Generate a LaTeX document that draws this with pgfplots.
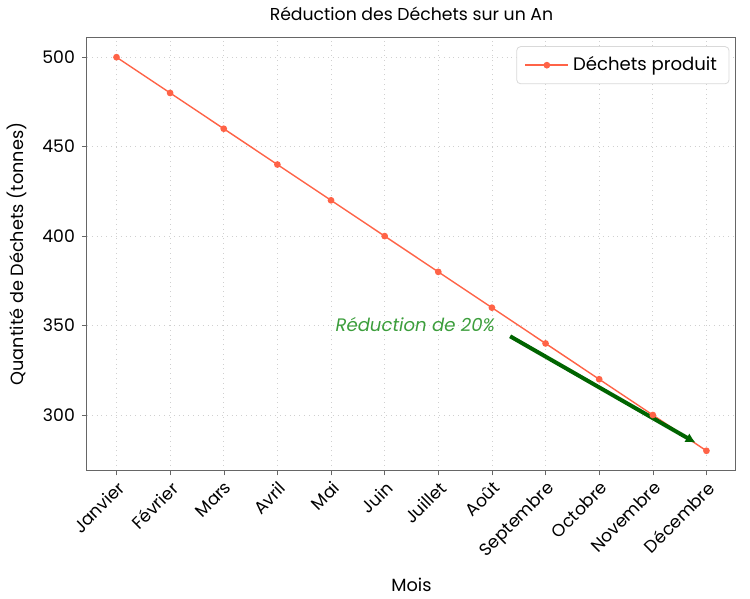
\documentclass[border=0pt]{standalone}
\usepackage{pgfplots}
\pgfplotsset{compat=1.18}
\usetikzlibrary{arrows.meta}
\usepackage{fontspec}
\setmainfont{Poppins}
\definecolor{tomato}{HTML}{FF6347}
\definecolor{anngreen}{HTML}{3C9E3C}
\definecolor{arrgreen}{HTML}{006400}
\definecolor{gridc}{HTML}{D0D0D0}
\begin{document}
\begin{tikzpicture}
\begin{axis}[
    width=323pt, height=215.5pt,
    scale only axis,
    xmin=-0.55, xmax=11.55,
    ymin=269, ymax=511,
    xtick={0,...,11},
    xticklabels={Janvier,Février,Mars,Avril,Mai,Juin,Juillet,Août,Septembre,Octobre,Novembre,Décembre},
    xticklabel style={rotate=45, anchor=north east, font=\fontsize{8.6}{10}\selectfont, inner sep=1.5pt},
    ytick={300,350,400,450,500},
    yticklabel style={font=\fontsize{8.6}{10}\selectfont},
    /pgf/number format/assume math mode=true,
    xtick pos=bottom, ytick pos=left,
    grid=major,
    major grid style={gridc, dotted, line width=0.4pt},
    axis line style={gray!80!black, line width=0.5pt},
    tick style={gray!80!black},
    tick align=outside,
    major tick length=2.5pt,
    xlabel={Mois},
    ylabel={Quantité de Déchets (tonnes)},
    label style={font=\fontsize{8.8}{10}\selectfont},
    xlabel style={yshift=-3pt},
    ylabel style={yshift=1pt},
    title={Réduction des Déchets sur un An},
    title style={font=\fontsize{8.6}{10}\selectfont, yshift=-1pt},
    legend style={at={(0.99,0.98)}, anchor=north east, draw=gray!30, rounded corners=2pt,
        font=\fontsize{9}{11}\selectfont, inner xsep=4pt, inner ysep=3pt},
    legend cell align=left,
    legend image code/.code={
        \draw[#1] (0cm,0cm) -- (0.75cm,0cm);
        \draw[#1, mark repeat=2, mark phase=2] plot coordinates {(0cm,0cm) (0.375cm,0cm) (0.75cm,0cm)};
    },
]
\addplot[tomato, line width=0.7pt, mark=*, mark size=1.3pt, mark options={fill=tomato, draw=tomato}]
coordinates {
(0,500)(1,480)(2,460)(3,440)(4,420)(5,400)(6,380)(7,360)(8,340)(9,320)(10,300)(11,280)
};
\addlegendentry{Déchets produit}
\node[anngreen, font=\itshape\fontsize{9}{11}\selectfont] at (axis cs:5.57,350.5) {Réduction de 20\%};
\draw[-{Latex[length=5pt,width=5pt]}, arrgreen, line width=2pt] (axis cs:7.34,344) -- (axis cs:10.8,284.5);
\end{axis}
\path ([xshift=7pt]current axis.east);
\end{tikzpicture}
\end{document}
